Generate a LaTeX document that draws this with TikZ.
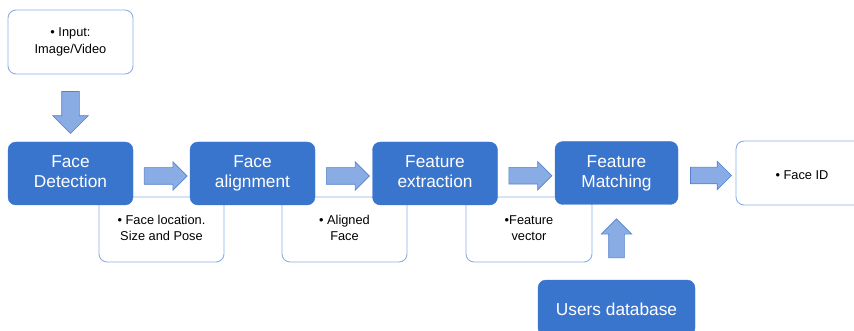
\documentclass[tikz,border=0pt]{standalone}
\usepackage{fontspec}
\setmainfont{Liberation Sans}
\usetikzlibrary{shapes.arrows}
\usetikzlibrary{calc}

\definecolor{boxblue}{RGB}{58,117,205}
\definecolor{lineblue}{RGB}{140,174,228}
\definecolor{arrowfill}{RGB}{138,172,228}
\definecolor{arrowline}{RGB}{84,130,204}

\tikzset{
  evenlines/.style={execute at begin node={\rule{0pt}{0.9\baselineskip}},
    execute at end node={\rule[-0.22em]{0pt}{0pt}}},
  stage/.style={rectangle, rounded corners=8pt, fill=boxblue, draw=boxblue,
    text=white, align=center, minimum width=125pt, minimum height=63pt,
    font=\fontsize{17.3}{20}\selectfont, evenlines},
  note/.style={rectangle, rounded corners=8pt, fill=white, draw=lineblue,
    line width=0.9pt, align=center, minimum width=125pt, minimum height=64pt,
    font=\fontsize{12.8}{16.5}\selectfont, evenlines},
  blockarrow/.style={single arrow, fill=arrowfill, draw=arrowline, line width=0.6pt,
    inner sep=8pt, minimum height=43pt, minimum width=28pt,
    single arrow head extend=6pt}
}

\begin{document}
\begin{tikzpicture}[x=1pt,y=-1pt]
\useasboundingbox (0,0) rectangle (854,331);
\clip (0,0) rectangle (854,331);
% notes under the stages
\node[note, minimum height=65pt] (n1) at (161.5,229.5) {• Face location.\\Size and Pose};
\node[note, minimum height=65pt] (n2) at (344.5,229.5) {• Aligned\\Face};
\node[note, minimum height=65pt, minimum width=126pt] (n3) at (529,229.5) {•Feature\\vector};
% input and output
\node[note] (in) at (70.5,42) {• Input:\\Image/Video};
\node[note, minimum width=132pt] (out) at (802,173) {• Face ID};
% pipeline
\node[stage] (det) at (70.5,173.5) {Face\\Detection};
\node[stage] (ali) at (252.5,173.5) {Face\\alignment};
\node[stage] (ext) at (435,173.5) {Feature\\extraction};
\node[stage, minimum width=123pt] (mat) at (616.5,173) {Feature\\Matching};
\node[stage, minimum width=157pt, minimum height=56pt] (db) at (616.5,308) {Users database};
% block arrows
\node[blockarrow, inner sep=8.5pt, minimum height=42pt, minimum width=35pt,
  single arrow head extend=9pt, shape border rotate=270] (a0)
  at ($(in.south)!0.5!(det.north)$) {};
\node[blockarrow] (a1) at ($(det.east)!0.5!(ali.west)+(0,2.5)$) {};
\node[blockarrow] (a2) at ($(ali.east)!0.5!(ext.west)+(0,2.5)$) {};
\node[blockarrow] (a3) at ($(ext.east)!0.5!(mat.west)+(0,2.5)$) {};
\node[blockarrow, minimum height=41pt] (a4) at ($(mat.east)!0.5!(out.west)+(0,2.5)$) {};
\node[blockarrow, inner sep=7.5pt, minimum height=39pt, minimum width=30pt,
  single arrow head extend=7.5pt, shape border rotate=90] (a5)
  at ($(db.north)!0.5!(mat.south)$) {};
\end{tikzpicture}
\end{document}
